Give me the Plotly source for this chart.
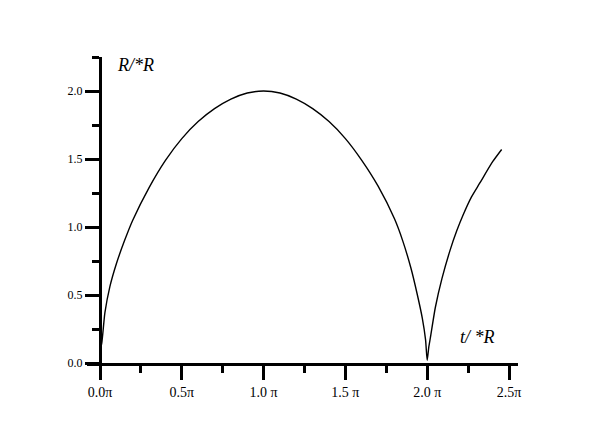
import plotly.graph_objects as go

# curve, t in units of pi
t_pi = [0.0, 0.01, 0.03, 0.06, 0.10, 0.15, 0.20, 0.30, 0.40, 0.50,
        0.60, 0.70, 0.80, 0.90, 1.00, 1.10, 1.20, 1.30, 1.40, 1.50,
        1.60, 1.70, 1.80, 1.85, 1.90, 1.94, 1.97, 1.99, 2.00, 2.01,
        2.02, 2.05, 2.09, 2.14, 2.18, 2.22, 2.27, 2.32, 2.40, 2.455]
r_ratio = [0.10, 0.14, 0.37, 0.56, 0.73, 0.90, 1.05, 1.29, 1.49, 1.65,
           1.775, 1.87, 1.94, 1.985, 2.00, 1.985, 1.94, 1.87, 1.775, 1.65,
           1.49, 1.30, 1.06, 0.90, 0.70, 0.50, 0.33, 0.17, 0.02, 0.12,
           0.19, 0.41, 0.62, 0.83, 0.97, 1.09, 1.22, 1.32, 1.48, 1.57]

x_tickvals = [0.0, 0.5, 1.0, 1.5, 2.0, 2.5]
x_ticktext = ["0.0π", "0.5π", "1.0 π", "1.5 π", "2.0 π", "2.5π"]
y_tickvals = [0.0, 0.5, 1.0, 1.5, 2.0]
y_ticktext = ["0.0", "0.5", "1.0", "1.5", "2.0"]

serif = "Liberation Serif, Times New Roman, serif"

fig = go.Figure()
fig.add_trace(go.Scatter(x=t_pi, y=r_ratio, mode="lines",
                         line=dict(color="black", width=1.4, shape="spline", smoothing=0.6),
                         showlegend=False))

x_min, x_max = -0.0795, 2.555
fig.update_layout(
    width=597, height=438,
    margin=dict(l=79, r=87, t=49, b=83),
    paper_bgcolor="white", plot_bgcolor="white",
    font=dict(family=serif, size=12, color="black"),
    xaxis=dict(range=[x_min, x_max], showgrid=False, zeroline=False,
               showline=True, linecolor="black", linewidth=3,
               ticks="outside", ticklen=14, tickwidth=3, tickcolor="black",
               tickvals=x_tickvals, ticktext=x_ticktext,
               minor=dict(ticks="outside", ticklen=7, tickwidth=3,
                          tickcolor="black", tick0=0, dtick=0.25),
               tickfont=dict(family=serif, size=14)),
    yaxis=dict(range=[0, 2.25], showgrid=False, zeroline=False,
               anchor="free", position=(0 - x_min) / (x_max - x_min),
               showline=True, linecolor="black", linewidth=3,
               ticks="outside", ticklen=14, tickwidth=3, tickcolor="black",
               tickvals=y_tickvals, ticktext=y_ticktext,
               minor=dict(ticks="outside", ticklen=7, tickwidth=3,
                          tickcolor="black", tick0=0, dtick=0.25),
               tickfont=dict(family=serif, size=12)),
)

fig.add_annotation(x=0.214, y=1.013, xref="x", yref="paper", text="<i>R/*R</i>",
                   showarrow=False, font=dict(family=serif, size=18))
fig.add_annotation(x=2.31, y=0.19, xref="x", yref="y", text="<i>t/ *R</i>",
                   showarrow=False, font=dict(family=serif, size=18))

fig.write_html("out.html")
